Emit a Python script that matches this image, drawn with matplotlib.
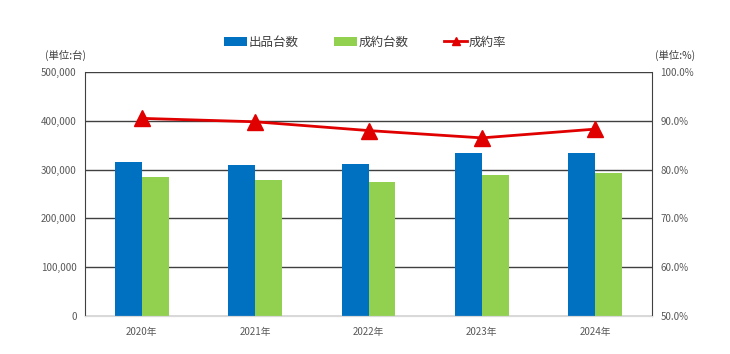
import matplotlib
matplotlib.use("Agg")
import matplotlib.pyplot as plt
from matplotlib.ticker import FuncFormatter
import numpy as np

plt.rcParams['font.family'] = ['Noto Sans CJK JP', 'DejaVu Sans']

years = ['2020年', '2021年', '2022年', '2023年', '2024年']
listed = [316000, 310000, 312000, 335000, 333000]
sold = [285000, 278000, 275000, 289000, 294000]
rate = [90.5, 89.8, 88.0, 86.5, 88.3]

fig = plt.figure(figsize=(7.30, 3.54), dpi=100)
ax = fig.add_axes([85/730, 1-316/354, (652-85)/730, (316-72)/354])
ax2 = ax.twinx()

x = np.arange(len(years))
w = 0.237
ax.set_axisbelow(True)
b1 = ax.bar(x - w/2, listed, w, color='#0070c0', label='出品台数', zorder=2)
b2 = ax.bar(x + w/2, sold, w, color='#92d050', label='成約台数', zorder=2)
ax.set_ylim(0, 500000)
ax.set_xlim(-0.5, 4.5)
ax.set_yticks(np.arange(0, 500001, 100000))
ax.yaxis.set_major_formatter(FuncFormatter(lambda v, p: f'{int(v):,}'))
ax.grid(axis='y', color='#404040', linewidth=1.0, zorder=0)
ax.set_xticks(x)
ax.set_xticklabels(years)

l, = ax2.plot(x, rate, color='#e00000', linewidth=2, marker='^', markersize=11,
              label='成約率', zorder=5)
ax2.set_ylim(50, 100)
ax2.set_yticks(np.arange(50, 100.1, 10))
ax2.yaxis.set_major_formatter(FuncFormatter(lambda v, p: f'{v:.1f}%'))

for a in (ax, ax2):
    a.tick_params(length=0, labelsize=7, colors='#595959', pad=6)
    a.spines['top'].set_visible(False)
    a.spines['left'].set_color('#404040')
    a.spines['right'].set_color('#404040')
    a.spines['bottom'].set_color('#d9d9d9')
ax.spines['right'].set_visible(False)
ax2.spines['left'].set_visible(False)
ax.tick_params(axis='x', pad=8)

fig.text(45/730, 1-55/354, '(単位:台)', fontsize=7.5, color='#404040', va='center', ha='left')
fig.text(655/730, 1-55/354, '(単位:%)', fontsize=7.5, color='#404040', va='center', ha='left')

fig.legend(handles=[b1, b2, l], loc='center', bbox_to_anchor=(0.5, 1-42/354),
           ncol=3, frameon=False, fontsize=9, handlelength=1.8, columnspacing=2.9,
           handletextpad=0.1, labelcolor='#404040', markerscale=0.5)

fig.savefig('out.png', dpi=100)
